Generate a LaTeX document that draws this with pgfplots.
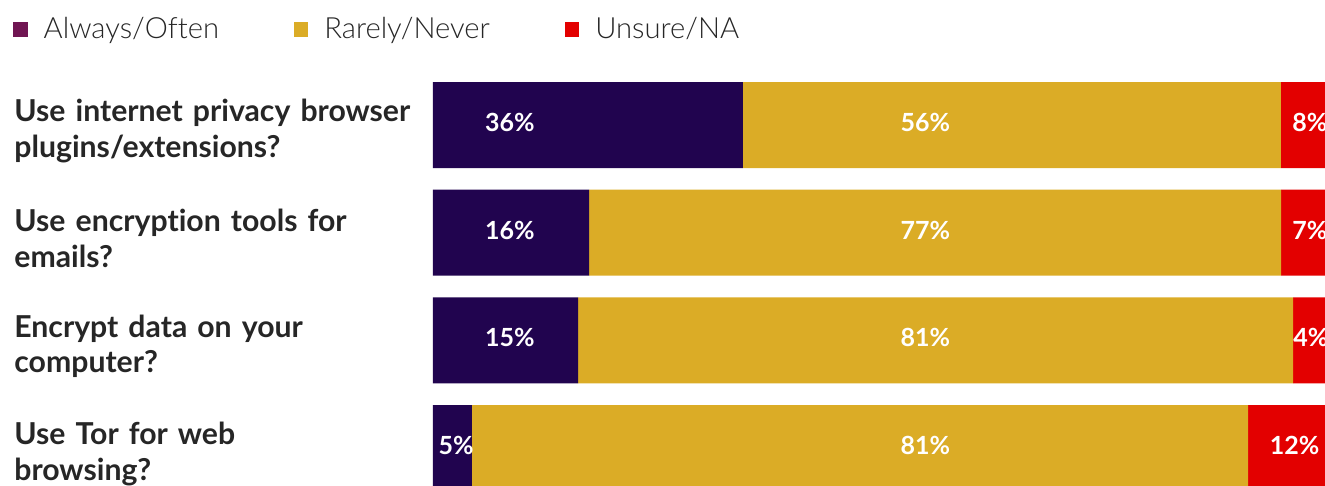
\documentclass[border=0pt]{standalone}
\usepackage{fontspec}
\setmainfont{Lato}[Ligatures={NoCommon}]
\newfontfamily\legfont{Lato Light}[Ligatures={NoCommon}]
\usepackage{pgfplots}
\pgfplotsset{compat=1.18}
\usepackage{pgfplotstable}

\definecolor{cpurp}{RGB}{33,4,79}
\definecolor{cgold}{RGB}{219,172,38}
\definecolor{cred}{RGB}{227,0,0}
\definecolor{clegp}{RGB}{112,21,82}
\definecolor{ctext}{RGB}{38,38,38}

% segment lengths as drawn (percent of the plotted span)
\pgfplotstableread{
k purple gold red
0 34.75 60.31 4.94
1 17.49 77.58 4.93
2 16.26 80.16 3.58
3 4.37 87.00 8.63
}\bars

% printed values and where they are printed
\pgfplotstableread{
x y lab
8.63 0 36
55.2 0 56
98.3 0 8
8.63 1 16
55.2 1 77
98.3 1 7
8.63 2 15
55.2 2 81
98.4 2 4
2.58 3 5
55.2 3 81
96.6 3 12
}\labels

\pgfplotsset{
  base/.style={scale only axis, width=446pt, height=242.5pt,
    xmin=0, xmax=100, ymin=-1.161, ymax=3.3436, y dir=reverse},
  sqleg/.style={legend image code/.code={\fill[##1] (0pt,-3.6pt) rectangle (7.2pt,3.6pt);}},
}

\begin{document}
\begin{tikzpicture}
\begin{axis}[base, name=a1,
  xbar stacked, bar width=43pt,
  axis line style={draw=none}, major tick length=0pt,
  xtick=\empty, ytick={0,1,2,3},
  yticklabels={{Use internet privacy browser\\plugins/extensions?},
               {Use encryption tools for\\emails?},
               {Encrypt data on your\\computer?},
               {Use Tor for web\\browsing?}},
  yticklabel style={font=\bfseries\fontsize{15.1}{17.8}\selectfont, text=ctext,
    align=left, anchor=west, text width=212pt, inner sep=0pt, xshift=-209.5pt, yshift=-3pt},
  legend columns=3,
  legend cell align=left,
  legend style={at={(axis description cs:-0.4709,0.9392)}, anchor=west,
    draw=none, fill=none, inner sep=0pt,
    font=\legfont\fontsize{14.6}{18}\selectfont, text=ctext,
    /tikz/every odd column/.append style={column sep=6pt},
    /tikz/every even column/.append style={column sep=35.5pt}},
]
\addplot[fill=cpurp, draw=none, forget plot] table[x=purple, y=k]{\bars};
\addplot[fill=cgold, draw=none, forget plot] table[x=gold, y=k]{\bars};
\addplot[fill=cred, draw=none, forget plot] table[x=red, y=k]{\bars};
\addlegendimage{sqleg, fill=clegp, draw=none}
\addlegendentry{Always/Often}
\addlegendimage{sqleg, fill=cgold, draw=none}
\addlegendentry{Rarely/Never}
\addlegendimage{sqleg, fill=cred, draw=none}
\addlegendentry{Unsure/NA}
\end{axis}
\begin{axis}[base, hide axis]
\addplot[draw=none, mark=none,
  point meta=explicit symbolic,
  nodes near coords={\pgfplotspointmeta\%},
  nodes near coords align={center},
  nodes near coords style={font=\bfseries\fontsize{12.5}{15}\selectfont, text=white, yshift=1.2pt}]
  table[x=x, y=y, meta=lab]{\labels};
\end{axis}
\pgfresetboundingbox
\path[use as bounding box] ([xshift=-216.5pt]a1.south west) rectangle (a1.north east);
\end{tikzpicture}
\end{document}
